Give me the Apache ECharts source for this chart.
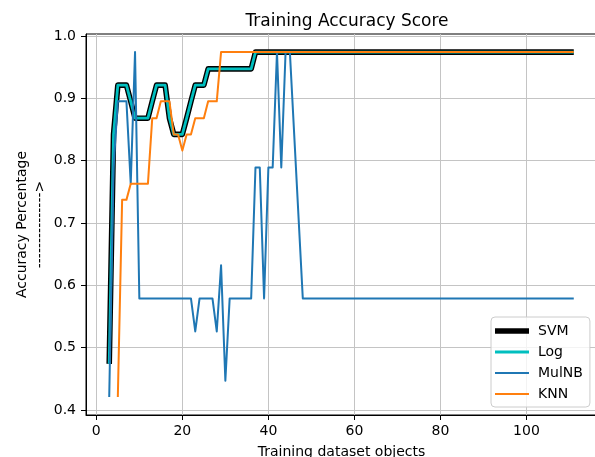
<!DOCTYPE html>
<html>
<head>
<meta charset="utf-8">
<script src="https://cdn.jsdelivr.net/npm/echarts@6/dist/echarts.min.js"></script>
<style>
  html, body { margin: 0; padding: 0; background: #fff; }
  #chart { width: 595px; height: 457px; }
</style>
</head>
<body>
<div id="chart"></div>
<script>
// training set size (x) and accuracy (y), read at the points where a line changes
const svmX = [3, 4, 5, 7, 8, 9, 12, 13, 14, 16, 17, 18, 20, 21, 22, 23, 25, 26, 36, 37, 111];
const svmY = [0.474, 0.842, 0.921, 0.921, 0.895, 0.868, 0.868, 0.895, 0.921, 0.921, 0.868, 0.842, 0.842, 0.868, 0.895, 0.921, 0.921, 0.947, 0.947, 0.974, 0.974];

const logX = [3, 4, 5, 7, 8, 9, 12, 13, 14, 16, 17, 18, 20, 21, 22, 23, 25, 26, 36, 37, 111];
const logY = [0.474, 0.842, 0.921, 0.921, 0.895, 0.868, 0.868, 0.895, 0.921, 0.921, 0.868, 0.842, 0.842, 0.868, 0.895, 0.921, 0.921, 0.947, 0.947, 0.974, 0.974];

const nbX = [3, 4, 5, 7, 8, 9, 10, 22, 23, 24, 27, 28, 29, 30, 31, 36, 37, 38, 39, 40, 41, 42, 43, 44, 45, 48, 111];
const nbY = [0.421, 0.789, 0.895, 0.895, 0.763, 0.974, 0.579, 0.579, 0.526, 0.579, 0.579, 0.526, 0.632, 0.447, 0.579, 0.579, 0.789, 0.789, 0.579, 0.789, 0.789, 0.974, 0.789, 0.974, 0.974, 0.579, 0.579];

const knnX = [5, 6, 7, 8, 12, 13, 14, 15, 17, 18, 19, 20, 21, 22, 23, 25, 26, 28, 29, 111];
const knnY = [0.421, 0.737, 0.737, 0.763, 0.763, 0.868, 0.868, 0.895, 0.895, 0.842, 0.842, 0.816, 0.842, 0.842, 0.868, 0.868, 0.895, 0.895, 0.974, 0.974];

const xTicks = [0, 20, 40, 60, 80, 100];
const yTicks = [0.4, 0.5, 0.6, 0.7, 0.8, 0.9, 1.0];

const font = 'DejaVu Sans';
const chart = echarts.init(document.getElementById('chart'));

function pairs(xs, ys) {
  return xs.map((x, i) => [x, ys[i]]);
}

function lineSeries(name, xs, ys, color, width) {
  return {
    name: name,
    type: 'line',
    data: pairs(xs, ys),
    color: color,
    symbol: 'none',
    animation: false,
    lineStyle: { color: color, width: width, join: 'round', cap: 'butt' }
  };
}

// legend samples are plain bars, thickness like the lines
function bar(h) {
  return 'path://M0,0 L34,0 L34,' + h + ' L0,' + h + ' Z';
}

const option = {
  animation: false,
  title: {
    text: 'Training Accuracy Score',
    left: 342,
    top: 8,
    textAlign: 'center',
    textStyle: { fontFamily: font, fontSize: 17, fontWeight: 'normal', color: '#000' }
  },
  grid: {
    left: 86, top: 34, width: 511, height: 381,
    outerBoundsMode: 'none',
    containLabel: false,
    show: true, borderColor: '#000', borderWidth: 1
  },
  legend: {
    orient: 'vertical',
    left: 491,
    top: 317,
    padding: [7, 7, 6, 4],
    itemWidth: 34,
    itemHeight: 14,
    itemGap: 7,
    backgroundColor: 'rgba(255,255,255,0.8)',
    borderColor: '#cccccc',
    borderWidth: 1,
    borderRadius: 4,
    itemStyle: { borderWidth: 0 },
    textStyle: { fontFamily: font, fontSize: 14, color: '#000', padding: [0, 0, 0, 4] },
    data: [
      { name: 'SVM', icon: bar(5.6) },
      { name: 'Log', icon: bar(2.8) },
      { name: 'MulNB', icon: bar(2) },
      { name: 'KNN', icon: bar(2) }
    ]
  },
  xAxis: {
    type: 'value',
    min: -2.4,
    max: 116.4,
    name: 'Training dataset objects',
    nameLocation: 'middle',
    nameGap: 30,
    nameMoveOverlap: false,
    nameTextStyle: { fontFamily: font, fontSize: 14, color: '#000' },
    axisLine: { onZero: false, lineStyle: { color: '#000', width: 1 } },
    axisTick: { length: 5, lineStyle: { color: '#000' }, customValues: xTicks },
    axisLabel: {
      customValues: xTicks,
      margin: 9,
      fontFamily: font, fontSize: 14, color: '#000',
      formatter: v => (xTicks.indexOf(v) >= 0 ? String(v) : '')
    },
    splitLine: { show: true, lineStyle: { color: '#c4c4c4', width: 1 } }
  },
  yAxis: {
    type: 'value',
    min: 0.392,
    max: 1.003,
    name: 'Accuracy Percentage\n--------------->',
    nameLocation: 'middle',
    nameRotate: 90,
    nameGap: 37,
    nameMoveOverlap: false,
    nameTextStyle: { fontFamily: font, fontSize: 14, color: '#000', lineHeight: 18 },
    axisLine: { onZero: false, lineStyle: { color: '#000', width: 1 } },
    axisTick: { length: 5, lineStyle: { color: '#000' }, customValues: yTicks },
    axisLabel: {
      customValues: yTicks,
      margin: 10,
      fontFamily: font, fontSize: 14, color: '#000',
      formatter: v => (Math.abs(v * 10 - Math.round(v * 10)) < 1e-6 ? v.toFixed(1) : '')
    },
    splitLine: { show: true, lineStyle: { color: '#c4c4c4', width: 1 } }
  },
  series: [
    lineSeries('SVM', svmX, svmY, '#000000', 5.6),
    lineSeries('Log', logX, logY, '#00bfbf', 2.8),
    lineSeries('MulNB', nbX, nbY, '#1f77b4', 2),
    lineSeries('KNN', knnX, knnY, '#ff7f0e', 2)
  ]
};

chart.setOption(option);
</script>
</body>
</html>
